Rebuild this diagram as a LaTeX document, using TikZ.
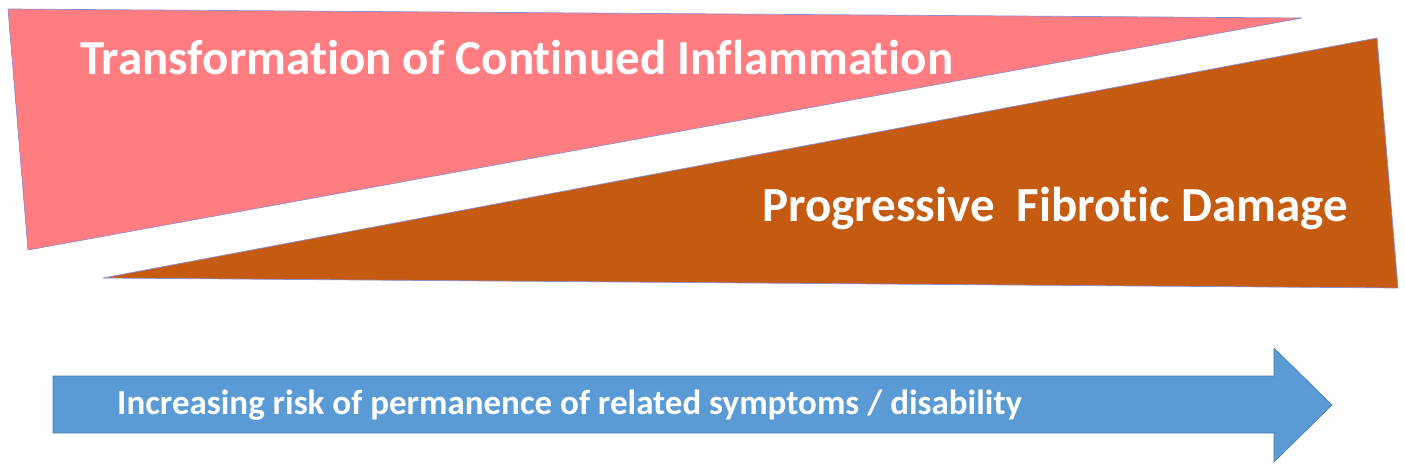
\documentclass[tikz,border=0pt]{standalone}
\usepackage{fontspec}
\setmainfont{Carlito}[RawFeature={-liga;-dlig;-clig}]
\begin{document}
\begin{tikzpicture}[x=1pt,y=-1pt,
  shape edge/.style={draw=black!40!blue!45, line width=0.7pt},
  lbl/.style={text=white, font=\bfseries, anchor=west, inner sep=0pt}]
\definecolor{pinkf}{RGB}{255,124,128}
\definecolor{orangef}{RGB}{197,90,17}
\definecolor{bluef}{RGB}{91,155,213}
\useasboundingbox (0,0) rectangle (1405,468);
\filldraw[fill=pinkf, shape edge] (8,9) coordinate (p1) -- (28,250) coordinate (p2) -- (1302,18) coordinate (p3) -- cycle;
\filldraw[fill=orangef, shape edge] (103,278) coordinate (o1) -- (1377,38) coordinate (o2) -- (1398,288) coordinate (o3) -- cycle;
\filldraw[fill=bluef, draw=bluef!80!black, line width=0.6pt] (53,376) -- (1274,376) -- (1274,348) -- (1332,405) -- (1274,462) -- (1274,433) -- (53,433) -- cycle;
\node[lbl, font=\fontsize{49}{52}\selectfont\bfseries] (t1) at (80,57) {Transformation of Continued Inflammation};
\node[lbl, font=\fontsize{49}{52}\selectfont\bfseries] (t2) at (762,208) {Progressive\ \ Fibrotic Damage};
\node[lbl, font=\fontsize{35}{38}\selectfont\bfseries] (t3) at (117,405) {Increasing risk of permanence of related symptoms / disability};
\end{tikzpicture}
\end{document}
